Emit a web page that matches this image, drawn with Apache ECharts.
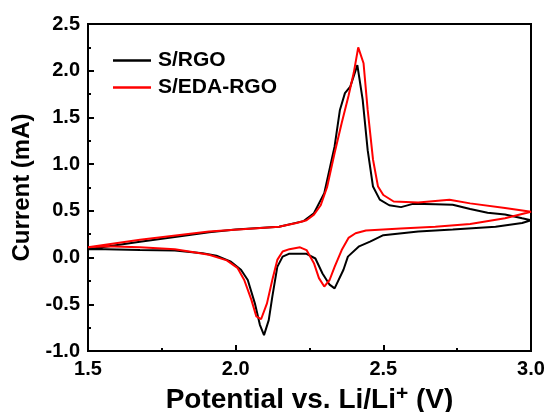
<!DOCTYPE html>
<html>
<head>
<meta charset="utf-8">
<script src="https://cdn.jsdelivr.net/npm/echarts@6/dist/echarts.min.js"></script>
<style>
html,body{margin:0;padding:0;background:#fff;}
#chart{width:547px;height:412px;}
</style>
</head>
<body>
<div id="chart"></div>
<script>
// S/RGO cyclic voltammogram (anodic sweep then cathodic sweep)
var rgoPotential = [1.5, 1.676, 1.794, 1.91, 2.0, 2.147, 2.23, 2.265, 2.30, 2.335, 2.353, 2.37, 2.388, 2.412, 2.43, 2.447, 2.465, 2.488, 2.52, 2.56, 2.60, 2.676, 2.735, 2.794, 2.853, 2.912, 2.97, 3.0,
  3.0, 2.97, 2.88, 2.735, 2.618, 2.5, 2.455, 2.418, 2.38, 2.365, 2.335, 2.318, 2.294, 2.27, 2.24, 2.18, 2.159, 2.141, 2.124, 2.112, 2.096, 2.082, 2.065, 2.041, 2.018, 1.982, 1.935, 1.888, 1.794, 1.676, 1.559, 1.5];
var rgoCurrent = [0.09, 0.17, 0.22, 0.27, 0.30, 0.33, 0.39, 0.475, 0.69, 1.19, 1.58, 1.76, 1.83, 2.06, 1.69, 1.15, 0.76, 0.62, 0.56, 0.54, 0.575, 0.57, 0.565, 0.52, 0.48, 0.46, 0.42, 0.40,
  0.385, 0.37, 0.33, 0.30, 0.28, 0.24, 0.17, 0.12, 0.01, -0.13, -0.33, -0.29, -0.17, -0.01, 0.04, 0.04, 0.01, -0.10, -0.42, -0.67, -0.83, -0.72, -0.49, -0.24, -0.13, -0.04, 0.02, 0.046, 0.075, 0.08, 0.09, 0.09];

// S/EDA-RGO cyclic voltammogram
var edaPotential = [1.5, 1.676, 1.91, 2.147, 2.206, 2.24, 2.265, 2.288, 2.31, 2.335, 2.359, 2.382, 2.40, 2.415, 2.433, 2.447, 2.465, 2.482, 2.5, 2.535, 2.618, 2.724, 2.794, 2.912, 3.0,
  2.912, 2.794, 2.676, 2.559, 2.441, 2.406, 2.382, 2.359, 2.335, 2.318, 2.30, 2.282, 2.265, 2.24, 2.218, 2.182, 2.159, 2.141, 2.124, 2.106, 2.086, 2.07, 2.053, 2.029, 2.006, 1.97, 1.91, 1.853, 1.794, 1.676, 1.559, 1.5];
var edaCurrent = [0.11, 0.19, 0.28, 0.33, 0.37, 0.40, 0.46, 0.56, 0.76, 1.12, 1.44, 1.73, 1.98, 2.25, 2.08, 1.58, 1.05, 0.76, 0.67, 0.60, 0.59, 0.62, 0.58, 0.53, 0.49,
  0.42, 0.36, 0.33, 0.31, 0.29, 0.26, 0.21, 0.08, -0.10, -0.24, -0.31, -0.22, -0.06, 0.08, 0.11, 0.09, 0.065, -0.025, -0.24, -0.49, -0.66, -0.63, -0.45, -0.24, -0.11, -0.03, 0.03, 0.06, 0.09, 0.11, 0.12, 0.11];

var seriesNames = ['S/RGO', 'S/EDA-RGO'];
var xTicks = {min: 1.5, max: 3.0, step: 0.5};
var yTicks = {min: -1.0, max: 2.5, step: 0.5};

function zip(a, b) { return a.map(function (v, i) { return [v, b[i]]; }); }

var FONT = '"Liberation Sans", Arial, sans-serif';
var chart = echarts.init(document.getElementById('chart'), null, {renderer: 'canvas'});

function axisCommon() {
  return {
    axisLine: {show: true, onZero: false, lineStyle: {color: '#000', width: 2}},
    axisTick: {show: true, inside: true, length: 6, lineStyle: {color: '#000', width: 2}},
    minorTick: {show: true, splitNumber: 2, length: 3, lineStyle: {color: '#000', width: 2}},
    splitLine: {show: false},
    axisLabel: {color: '#000', fontFamily: FONT, fontWeight: 'bold', fontSize: 20, margin: 8,
      formatter: function (v) { return v.toFixed(1); }}
  };
}

var xAxis = Object.assign(axisCommon(), {
  type: 'value', min: xTicks.min, max: xTicks.max, interval: xTicks.step,
  name: 'Potential vs. Li/Li{sup|+} (V)',
  nameLocation: 'middle', nameGap: 30,
  nameTextStyle: {color: '#000', fontFamily: FONT, fontWeight: 'bold', fontSize: 28,
    rich: {sup: {fontFamily: FONT, fontWeight: 'bold', fontSize: 21, verticalAlign: 'top', padding: [0, 0, 12, 0]}}}
});
var yAxis = Object.assign(axisCommon(), {
  type: 'value', min: yTicks.min, max: yTicks.max, interval: yTicks.step,
  name: 'Current (mA)', nameLocation: 'middle', nameGap: 49, nameRotate: 90,
  nameTextStyle: {color: '#000', fontFamily: FONT, fontWeight: 'bold', fontSize: 24}
});

chart.setOption({
  backgroundColor: '#fff',
  animation: false,
  grid: {left: 88, right: 16, top: 24, bottom: 61, show: true, borderColor: '#000', borderWidth: 2,
    containLabel: false, outerBoundsMode: 'none'},
  xAxis: xAxis,
  yAxis: yAxis,
  legend: {
    left: 108, top: 45, orient: 'vertical', itemGap: 6,
    icon: 'rect', itemWidth: 38, itemHeight: 2.5,
    textStyle: {color: '#000', fontFamily: FONT, fontWeight: 'bold', fontSize: 21, padding: [0, 0, 0, 2]},
    data: seriesNames
  },
  series: [
    {name: seriesNames[0], type: 'line', data: zip(rgoPotential, rgoCurrent), symbol: 'none', smooth: false,
      lineStyle: {color: '#000', width: 2}, itemStyle: {color: '#000'}},
    {name: seriesNames[1], type: 'line', data: zip(edaPotential, edaCurrent), symbol: 'none', smooth: false,
      lineStyle: {color: '#ff0000', width: 2}, itemStyle: {color: '#ff0000'}}
  ]
});
</script>
</body>
</html>
